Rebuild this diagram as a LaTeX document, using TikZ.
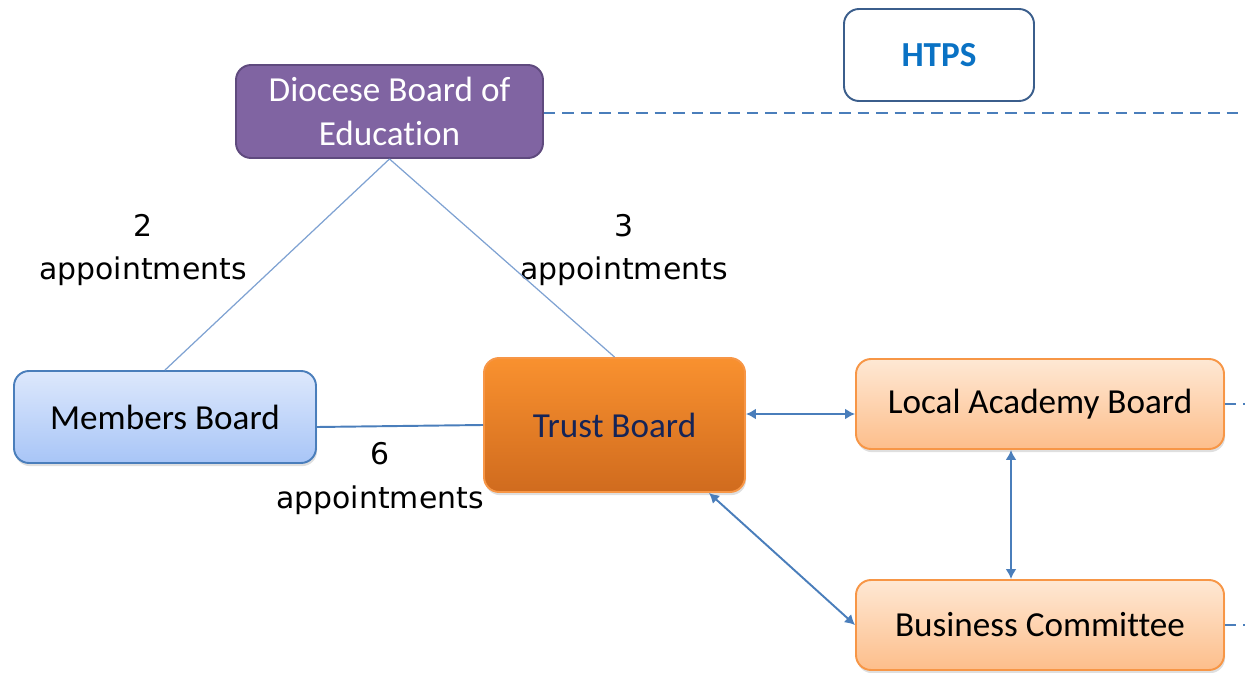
\documentclass[tikz,border=0pt]{standalone}
\usepackage{fontspec}
\setmainfont{Carlito}[Ligatures=NoCommon]
\newfontfamily\apptfont{DejaVu Sans}
\usetikzlibrary{arrows.meta,shadows}

\definecolor{linkblue}{HTML}{4A7EBB}
\definecolor{thinblue}{HTML}{7FA2D2}
\definecolor{purplefill}{HTML}{8064A2}
\definecolor{purpleedge}{HTML}{5F4A7E}
\definecolor{orangeedge}{HTML}{F79646}
\definecolor{navytext}{HTML}{152457}
\definecolor{htpsblue}{HTML}{0A72C4}
\definecolor{htpsedge}{HTML}{3B5E8C}

\begin{document}
\begin{tikzpicture}[
    board/.style ={rectangle, rounded corners=3mm, draw, line width=1.1pt, align=center,
      inner sep=0pt, font=\fontsize{20}{25}\selectfont},
    shadowed/.style ={drop shadow={opacity=0.25, shadow xshift=0.6pt, shadow yshift=-1.8pt}},
    appt/.style ={align=center, font=\apptfont\fontsize{17}{25}\selectfont},
    link/.style ={draw=linkblue, line width=1.1pt, {Latex[length=2mm,width=2.2mm]}-{Latex[length=2mm,width=2.2mm]}},
    thin/.style ={draw=thinblue, line width=0.7pt},
    outside/.style ={draw=linkblue, line width=1.1pt, dash pattern=on 6.5pt off 4pt}]
   \useasboundingbox (0,0) rectangle (24.9,13.44);
   \node[board, fill=purplefill, draw=purpleedge, text=white, minimum width=6.14cm, minimum height=1.86cm] (D) at (7.79,11.21) {Diocese Board of\\Education};
   \node[board, fill=white, draw=htpsedge, text=htpsblue, font=\fontsize{20}{25}\selectfont\bfseries, minimum width=3.8cm, minimum height=1.84cm] (H) at (18.78,12.34) {HTPS};
   \node[board, shadowed, draw=linkblue, top color={rgb,255:red,221;green,232;blue,252}, bottom color={rgb,255:red,168;green,197;blue,247}, minimum width=6.04cm, minimum height=1.84cm] (M) at (3.30,5.10) {Members Board};
   \node[board, shadowed, draw=orangeedge, top color={rgb,255:red,249;green,145;blue,47}, bottom color={rgb,255:red,208;green,107;blue,30}, text=navytext, minimum width=5.22cm, minimum height=2.68cm] (T) at (12.29,4.94) {Trust Board};
   \node[board, shadowed, draw=orangeedge, top color={rgb,255:red,254;green,232;blue,212}, bottom color={rgb,255:red,253;green,190;blue,139}, minimum width=7.36cm, minimum height=1.80cm] (L) at (20.80,5.36) {Local Academy Board};
   \node[board, shadowed, draw=orangeedge, top color={rgb,255:red,254;green,232;blue,212}, bottom color={rgb,255:red,253;green,190;blue,139}, minimum width=7.36cm, minimum height=1.80cm] (C) at (20.80,0.94) {Business Committee};
   \node[appt] (a2) at (2.86,8.44) {2\\appointments};
   \node[appt] (a3) at (12.48,8.44) {3\\appointments};
   \node[appt] (a6) at (7.60,3.87) {6\\appointments};
   \coordinate (Dend) at (24.9,11.18);
   \coordinate (Lend) at (24.9,5.36);
   \coordinate (Cend) at (24.9,0.94);
   \draw[outside] (D.east |- Dend) -- (Dend);
   \draw[outside] (L.east) -- (Lend);
   \draw[outside] (C.east) -- (Cend);
   \draw[thin] (D.south) -- (M.north);
   \draw[thin] (D.south) -- (T.north);
   \draw[draw=linkblue, line width=1.1pt] ([yshift=-2mm]M.east) -- (T.west);
   \draw[link] ([yshift=2.2mm]T.east) -- ([yshift=-2mm]L.west);
   \draw[link] ([xshift=-7.4mm]T.south east) -- (C.west);
   \draw[link] ([xshift=-5.8mm]L.south) -- ([xshift=-5.8mm]C.north);
 \end{tikzpicture}
\end{document}
